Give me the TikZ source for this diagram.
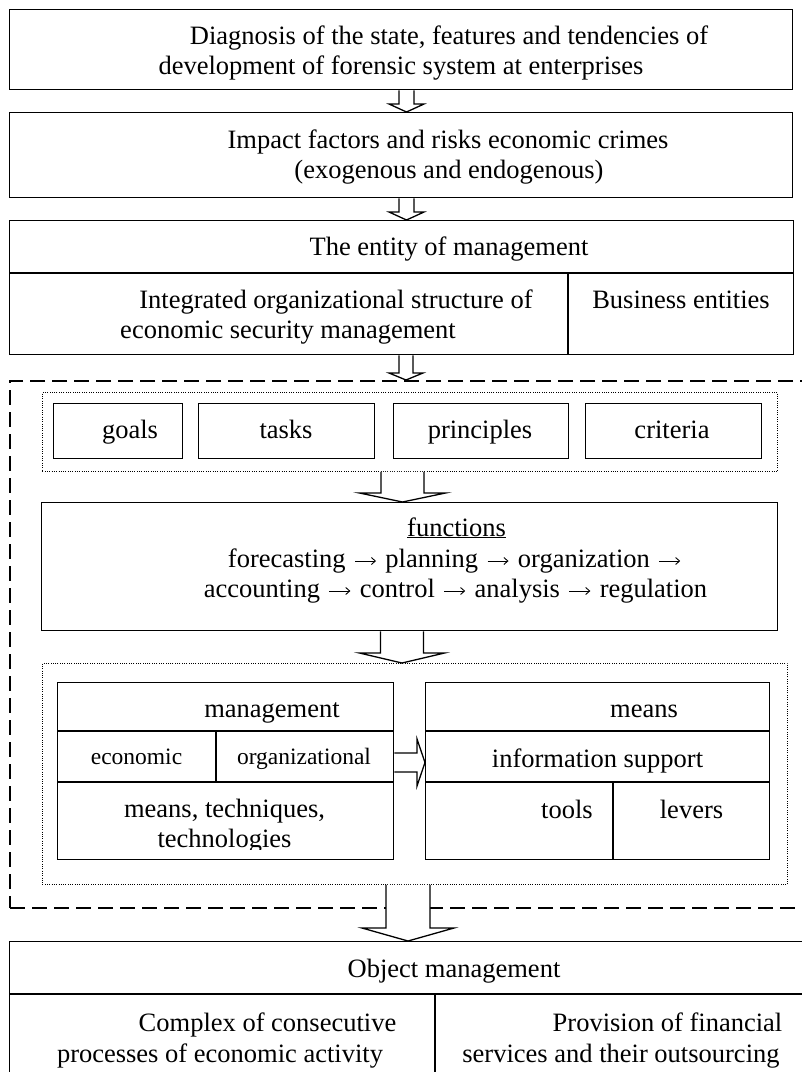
\documentclass[tikz,border=0pt]{standalone}
\usepackage{fontspec}
\setmainfont{Liberation Serif}
\usetikzlibrary{calc, arrows.meta}

\tikzset{
  cell/.style={draw, line width=1.4pt, inner sep=0pt, anchor=north west},
  lbl/.style={anchor=base, inner sep=0pt, font=\fontsize{26.5}{31}\selectfont},
  lblsmall/.style={lbl, font=\fontsize{23.5}{28}\selectfont},
  dotframe/.style={draw, line width=0.9pt, dash pattern=on 0.9pt off 1.4pt, inner sep=0pt, anchor=north west},
  dashframe/.style={draw, line width=2pt, dash pattern=on 15pt off 7pt, inner sep=0pt, anchor=north west},
  blockarr/.style={draw, line width=1.3pt, fill=white, line join=miter},
  divider/.style={line width=1.4pt}
}

% long thin arrow between the functions
\newsavebox{\arrbox}
\newcommand{\nextstep}{\sbox{\arrbox}{→}\makebox[\wd\arrbox]{\tikz[baseline=0pt, x=1pt, y=1pt]
  \draw[line width=0.9pt, -{Straight Barb[length=4pt, width=7pt]}] (0,6) -- (21,6);}}

% hollow arrow down: axis x, from, to, shaft half, head half, head length
\newcommand{\downblock}[6]{%
  \coordinate (s) at (#1,0 |- #2.south);
  \coordinate (e) at (#1,0 |- #3.north);
  \draw[blockarr] ($(s)+(-#4,0)$) -- ($(e)+(-#4,-#6)$) -- ($(e)+(-#5,-#6)$) -- (e)
    -- ($(e)+(#5,-#6)$) -- ($(e)+(#4,-#6)$) -- ($(s)+(#4,0)$);
}
% hollow arrow right: axis y, from, to, shaft half, head half, head length
\newcommand{\rightblock}[6]{%
  \coordinate (s) at (#2.east |- 0,#1);
  \coordinate (e) at (#3.west |- 0,#1);
  \draw[blockarr] ($(s)+(0,-#4)$) -- ($(e)+(-#6,-#4)$) -- ($(e)+(-#6,-#5)$) -- (e)
    -- ($(e)+(-#6,#5)$) -- ($(e)+(-#6,#4)$) -- ($(s)+(0,#4)$);
}

\begin{document}
\begin{tikzpicture}[x=1pt, y=-1pt]
        \useasboundingbox (0,0) rectangle (802,1072);
        \clip (0,0) rectangle (802,1072);

        % upper blocks

        \node[cell, minimum width=783pt, minimum height=80pt] (diag) at (9,9) {};
        \node[lbl] (diagA) at (449,44) {Diagnosis of the state, features and tendencies of};
        \node[lbl] (diagB) at (401,74) {development of forensic system at enterprises};

        \node[cell, minimum width=783pt, minimum height=85pt] (impact) at (9,112) {};
        \node[lbl] (impA) at (448,148) {Impact factors and risks economic crimes};
        \node[lbl] (impB) at (449,178) {(exogenous and endogenous)};

        \node[cell, minimum width=784pt, minimum height=134pt] (entity) at (9,220) {};
        \draw[divider] (entity.west |- 0,273) -- (entity.east |- 0,273);
        \draw[divider] (568,273) -- (entity.south -| 568,0);
        \node[lbl] (entT) at (449,255) {The entity of management};
        \node[lbl] (entA) at (336,308) {Integrated organizational structure of};
        \node[lbl] (entB) at (288,338) {economic security management};
        \node[lbl] (entC) at (681,308) {Business entities};

        % dashed frame

        \node[dashframe, minimum width=810pt, minimum height=527pt] (frame) at (9,380) {};

        % goals, tasks, principles, criteria

        \node[dotframe, minimum width=735pt, minimum height=79pt] (dotA) at (42,392) {};
        \node[cell, minimum width=129pt, minimum height=55pt] (goals) at (53,403) {};
        \node[cell, minimum width=176pt, minimum height=55pt] (tasks) at (198,403) {};
        \node[cell, minimum width=175pt, minimum height=55pt] (princ) at (393,403) {};
        \node[cell, minimum width=176pt, minimum height=55pt] (crit) at (585,403) {};
        \node[lbl] (goalsT) at (130,438) {goals};
        \node[lbl] (tasksT) at (286,438) {tasks};
        \node[lbl] (princT) at (480,438) {principles};
        \node[lbl] (critT) at (672,438) {criteria};

        % functions

        \node[cell, minimum width=736pt, minimum height=128pt] (funcs) at (41,502) {};
        \node[lbl] (funcsT) at (456.5,536) {\underline{functions}};
        \node[lbl] (funcsA) at (455.5,567) {forecasting \nextstep{} planning \nextstep{} organization \nextstep};
        \node[lbl] (funcsB) at (455.5,597) {accounting \nextstep{} control \nextstep{} analysis \nextstep{} regulation};

        % management and means

        \node[dotframe, minimum width=745pt, minimum height=221pt] (dotB) at (42,663) {};

        \begin{scope}
          \clip (57,782) rectangle (393,849);
          \node[lbl] (mgmtD) at (224.5,847) {technologies};
        \end{scope}
        \node[cell, minimum width=336pt, minimum height=177pt] (mgmt) at (57,682) {};
        \draw[divider] (mgmt.west |- 0,731) -- (mgmt.east |- 0,731);
        \draw[divider] (mgmt.west |- 0,782) -- (mgmt.east |- 0,782);
        \draw[divider] (216,731) -- (216,782);
        \node[lbl] (mgmtT) at (272,717) {management};
        \node[lblsmall] (mgmtA) at (136.5,764) {economic};
        \node[lblsmall] (mgmtB) at (304,764) {organizational};
        \node[lbl] (mgmtC) at (224.5,817) {means, techniques,};

        \node[cell, minimum width=344pt, minimum height=177pt] (means) at (425,682) {};
        \draw[divider] (means.west |- 0,731) -- (means.east |- 0,731);
        \draw[divider] (means.west |- 0,782) -- (means.east |- 0,782);
        \draw[divider] (613,782) -- (means.south -| 613,0);
        \node[lbl] (meansT) at (644,717) {means};
        \node[lbl] (meansA) at (597.5,767) {information support};
        \node[lbl] (meansB) at (567,818) {tools};
        \node[lbl] (meansC) at (691.5,818) {levers};

        % object management

        \node[cell, minimum width=810pt, minimum height=150pt] (object) at (9,941) {};
        \draw[divider] (object.west |- 0,994) -- (object.east |- 0,994);
        \draw[divider] (435,994) -- (object.south -| 435,0);
        \node[lbl] (objT) at (454,977) {Object management};
        \node[lbl] (objA) at (267.5,1031) {Complex of consecutive};
        \node[lbl] (objB) at (220,1062) {processes of economic activity};
        \node[lbl] (objC) at (667.5,1031) {Provision of financial};
        \node[lbl] (objD) at (621,1062) {services and their outsourcing};

        % arrows

        \downblock{406.5}{diag}{impact}{7.5}{17.5}{8}
        \downblock{406.5}{impact}{entity}{7.5}{17.5}{8}
        \downblock{406}{entity}{frame}{7}{17}{7}
        \downblock{402.5}{dotA}{funcs}{21.5}{43}{9}
        \downblock{402}{funcs}{dotB}{21.5}{42.5}{10}
        \downblock{408}{dotB}{object}{22}{46}{13}
        \rightblock{762.5}{mgmt}{means}{9.5}{23.5}{8}

    \end{tikzpicture}
\end{document}
